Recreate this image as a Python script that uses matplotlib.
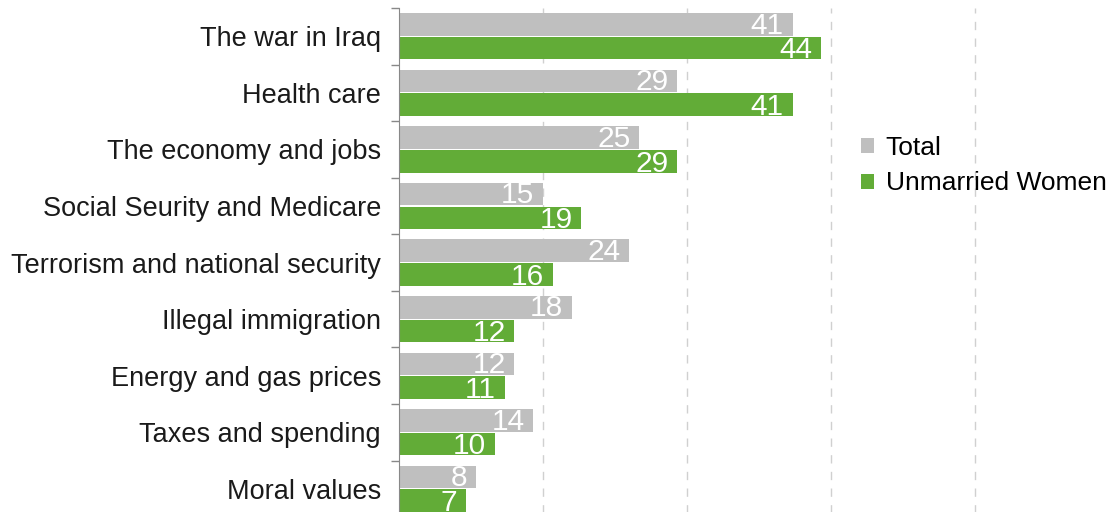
import matplotlib
matplotlib.use("Agg")
import matplotlib.pyplot as plt
import numpy as np

plt.rcParams['font.family'] = ['Liberation Sans', 'DejaVu Sans']

categories = [
    "The war in Iraq",
    "Health care",
    "The economy and jobs",
    "Social Seurity and Medicare",
    "Terrorism and national security",
    "Illegal immigration",
    "Energy and gas prices",
    "Taxes and spending",
    "Moral values",
]
total = [41, 29, 25, 15, 24, 18, 12, 14, 8]
unmarried_women = [44, 41, 29, 19, 16, 12, 11, 10, 7]

gray = "#BFBFBF"
green = "#62AC37"

fig = plt.figure(figsize=(11.15, 5.12), dpi=100)
ax = fig.add_axes([399 / 1115, -0.01, (975 - 399) / 1115, 1 - 8 / 512 + 0.01])

n = len(categories)
y = np.arange(n)
h = 0.4
ax.barh(y - h / 2 - 0.01, total, height=h, color=gray, label="Total")
ax.barh(y + h / 2 + 0.01, unmarried_women, height=h, color=green, label="Unmarried Women")

for yi, v in zip(y, total):
    ax.text(v - 0.9, yi - h / 2 + 0.01, str(v), ha="right", va="center",
            color="white", fontsize=21.5)
for yi, v in zip(y, unmarried_women):
    ax.text(v - 0.9, yi + h / 2 + 0.05, str(v), ha="right", va="center",
            color="white", fontsize=21.5)

ax.set_xlim(0, 60)
ax.set_ylim(n - 0.5, -0.5)
ax.set_xticks([15, 30, 45, 60])
ax.xaxis.grid(True, linestyle=(0, (6, 6)), color="#D0D0D0", linewidth=1)
for gl in ax.get_xgridlines():
    gl.set_clip_on(False)
ax.set_axisbelow(True)
ax.tick_params(axis="x", length=0, labelbottom=False)

ax.set_yticks(y)
ax.set_yticklabels(categories, fontsize=19.5, color="#1a1a1a")
ax.tick_params(axis="y", which="major", length=0, pad=13)
ax.set_yticks(np.arange(-0.5, n, 1.0), minor=True)
ax.tick_params(axis="y", which="minor", length=6, color="#888888", width=1)

for side in ("top", "right", "bottom"):
    ax.spines[side].set_visible(False)
ax.spines["left"].set_color("#888888")

leg = fig.legend(loc="upper left", bbox_to_anchor=(850 / 1115, 1 - 125 / 512),
                 frameon=False, fontsize=19, handlelength=0.5, handleheight=0.5,
                 handletextpad=0.45, labelspacing=0.45, borderaxespad=0)

fig.savefig("out.png", dpi=100)
